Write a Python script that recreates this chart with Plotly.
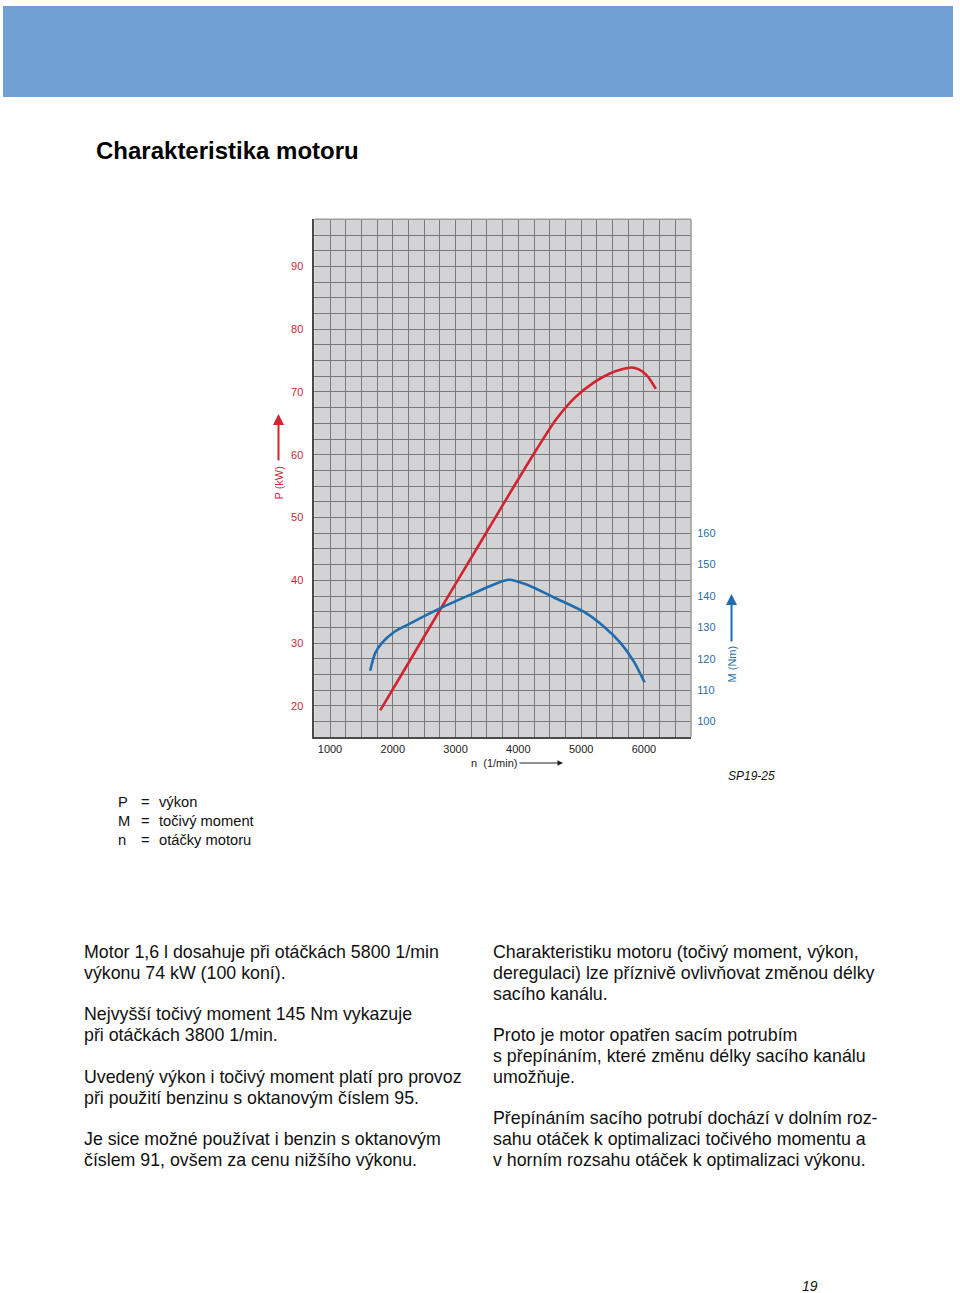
import plotly.graph_objects as go

# ---- data ----
rpm_power = [1800, 2200, 2800, 3400, 3950, 4300, 4600, 4900, 5200, 5450, 5650, 5800, 5920, 6030, 6110, 6190]
power_kw = [19.3, 26.0, 36.1, 46.1, 55.3, 61.0, 65.6, 69.1, 71.5, 72.9, 73.6, 73.9, 73.6, 72.8, 71.8, 70.5]

rpm_torque = [1640, 1720, 1825, 2010, 2280, 2810, 3290, 3600, 3850, 4140, 4560, 5040, 5360, 5630, 5840, 6010]
torque_nm = [116.2, 121.8, 125.0, 128.4, 131.3, 136.6, 140.9, 143.6, 145.2, 143.6, 139.6, 135.0, 130.3, 125.0, 119.1, 112.5]

rpm_ticks = [1000, 2000, 3000, 4000, 5000, 6000]
power_ticks = [20, 30, 40, 50, 60, 70, 80, 90]
torque_ticks = [100, 110, 120, 130, 140, 150, 160]

W, H = 960, 1293
def px(x): return x / W
def py(y): return 1 - y / H

RED = "#d2232e"
BLUE = "#1f6db0"
RED_T = "#c8283c"
BLUE_T = "#2b6fa6"
FONT = "Liberation Sans, Arial, Helvetica, sans-serif"
GRID = "#7a7a7a"

fig = go.Figure()
fig.add_trace(go.Scatter(x=rpm_power, y=power_kw, mode="lines",
                         line=dict(color=RED, width=2.6, shape="spline", smoothing=0.7),
                         yaxis="y", showlegend=False, hoverinfo="skip"))
fig.add_trace(go.Scatter(x=rpm_torque, y=torque_nm, mode="lines",
                         line=dict(color=BLUE, width=2.6, shape="spline", smoothing=0.8),
                         yaxis="y2", showlegend=False, hoverinfo="skip"))

x0, x1, ytop, ybot = 314.3, 691.0, 219.3, 737.3

fig.update_layout(
    width=W, height=H,
    margin=dict(l=0, r=0, t=0, b=0),
    paper_bgcolor="white",
    plot_bgcolor="#d3d3d5",
    font=dict(family=FONT, color="#111"),
    xaxis=dict(domain=[px(x0), px(x1)], range=[750, 6750],
               tickvals=rpm_ticks, ticktext=[str(v) for v in rpm_ticks],
               tickfont=dict(size=11, color="#222"),
               ticks="outside", ticklen=1, tickcolor="rgba(0,0,0,0)",
               showgrid=True, gridcolor=GRID, gridwidth=1,
               minor=dict(tick0=750, dtick=250, showgrid=True, gridcolor=GRID, gridwidth=1),
               showline=True, linecolor="#4a4a4a", linewidth=1.5, mirror=False,
               zeroline=False, fixedrange=True),
    yaxis=dict(domain=[py(ybot), py(ytop)], range=[15, 97.5],
               tickvals=power_ticks, ticktext=[str(v) for v in power_ticks],
               tickfont=dict(size=11, color=RED_T),
               ticks="outside", ticklen=7, tickcolor="rgba(0,0,0,0)",
               showgrid=True, gridcolor=GRID, gridwidth=1,
               minor=dict(tick0=15, dtick=2.5, showgrid=True, gridcolor=GRID, gridwidth=1),
               showline=True, linecolor="#4a4a4a", linewidth=1.5, mirror=False,
               zeroline=False, fixedrange=True),
    yaxis2=dict(overlaying="y", side="right", range=[95, 260],
                tickvals=torque_ticks, ticktext=[str(v) for v in torque_ticks],
                tickfont=dict(size=11, color=BLUE_T),
                ticks="outside", ticklen=3, tickcolor="rgba(0,0,0,0)",
                showgrid=False, zeroline=False, showline=False, fixedrange=True),
)

# top banner
fig.add_shape(type="rect", xref="paper", yref="paper",
              x0=px(3), x1=px(953), y0=py(97), y1=py(6),
              fillcolor="#70a0d4", line=dict(width=0), layer="below")
# lighter top / right frame of the grid
fig.add_shape(type="line", xref="paper", yref="paper",
              x0=px(x0), x1=px(x1), y0=py(ytop), y1=py(ytop),
              line=dict(color="#9c9c9c", width=1.5))
fig.add_shape(type="line", xref="paper", yref="paper",
              x0=px(x1), x1=px(x1), y0=py(ytop), y1=py(ybot),
              line=dict(color="#9c9c9c", width=1.5))

ann = []
def text(x, y, s, size, color="#111", xanchor="left", yanchor="middle", align="left", **kw):
    ann.append(dict(x=px(x), y=py(y), xref="paper", yref="paper", text=s, showarrow=False,
                    xanchor=xanchor, yanchor=yanchor, align=align,
                    font=dict(size=size, color=color, family=FONT), **kw))

# title
text(94, 150, "<b>Charakteristika motoru</b>", 24, color="#000")

# axis titles
text(278.5, 483, "P (kW)", 11, color=RED_T, xanchor="center", textangle=-90)
text(731.5, 664, "M (Nm)", 11, color=BLUE_T, xanchor="center", textangle=-90)
text(469, 763, "n  (1/min)", 11, color="#222")
text(726, 776, "<i>SP19-25</i>", 12, color="#111")

# arrows
def arrow(xh, yh, xt, yt, color, w=2):
    ann.append(dict(x=px(xh), y=py(yh), xref="paper", yref="paper", ax=xt - xh, ay=yt - yh,
                    axref="pixel", ayref="pixel", text="", showarrow=True,
                    arrowhead=2, arrowsize=1.1, arrowwidth=w, arrowcolor=color))
arrow(278.5, 414, 278.5, 462, RED)
arrow(731.5, 594, 731.5, 643, BLUE)
arrow(563, 763, 518, 763, "#222", 1)

# symbol legend
legend_rows = [("P", "výkon", 802), ("M", "točivý moment", 821), ("n", "otáčky motoru", 840)]
for sym, desc, yy in legend_rows:
    text(116, yy, sym, 14.7)
    text(139, yy, "=", 14.7)
    text(157, yy, desc, 14.7)

left_lines = ["Motor 1,6 l dosahuje při otáčkách 5800 1/min", "výkonu 74 kW (100 koní).", "",
              "Nejvyšší točivý moment 145 Nm vykazuje", "při otáčkách 3800 1/min.", "",
              "Uvedený výkon i točivý moment platí pro provoz", "při použití benzinu s oktanovým číslem 95.", "",
              "Je sice možné používat i benzin s oktanovým", "číslem 91, ovšem za cenu nižšího výkonu."]
right_lines = ["Charakteristiku motoru (točivý moment, výkon,", "deregulaci) lze příznivě ovlivňovat změnou délky",
               "sacího kanálu.", "",
               "Proto je motor opatřen sacím potrubím", "s přepínáním, které změnu délky sacího kanálu",
               "umožňuje.", "",
               "Přepínáním sacího potrubí dochází v dolním roz-", "sahu otáček k optimalizaci točivého momentu a",
               "v horním rozsahu otáček k optimalizaci výkonu."]
for i, s in enumerate(left_lines):
    if s:
        text(82, 952 + 20.8 * i, s, 17.8)
for i, s in enumerate(right_lines):
    if s:
        text(491, 952 + 20.8 * i, s, 17.8)

text(809.5, 1286, "<i>19</i>", 14, xanchor="center")

fig.update_layout(annotations=ann)
fig.write_html("out.html")
